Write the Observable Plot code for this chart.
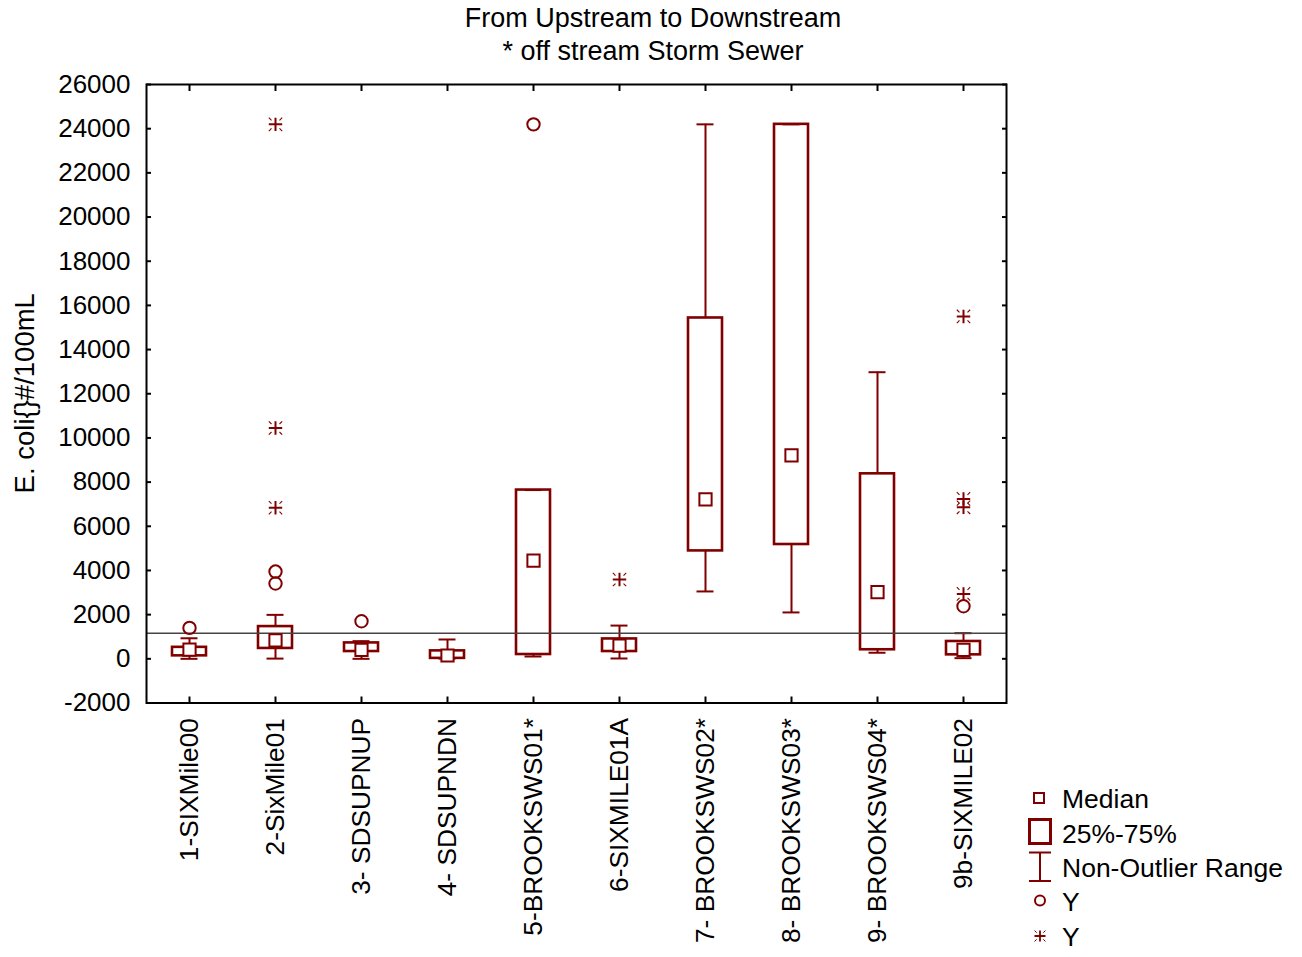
<!DOCTYPE html>
<html><head><meta charset="utf-8">
<script src="https://cdn.jsdelivr.net/npm/d3@7"></script>
<script src="https://cdn.jsdelivr.net/npm/@observablehq/plot@0.6"></script>
<style>
body{margin:0;background:#fff;font-family:"Liberation Sans",Arial,sans-serif;}
#title{width:1306px;height:70px;text-align:center;font-size:27px;line-height:33px;padding-top:2px;box-sizing:border-box;color:#000;}
#chart svg{display:block;}
</style></head><body>
<div id="title">From Upstream to Downstream<br>* off stream Storm Sewer</div>
<div id="chart"></div>
<script>
const categories = ["1-SIXMile00","2-SixMile01","3- SDSUPNUP","4- SDSUPNDN","5-BROOKSWS01*","6-SIXMILE01A","7- BROOKSWS02*","8- BROOKSWS03*","9- BROOKSWS04*","9b-SIXMILE02"];
const medians     = [420, 830, 400, 150, 4450, 600, 7220, 9210, 3015, 410];
const q1          = [135, 470, 330, 20, 195, 330, 4885, 5175, 410, 180];
const q3          = [520, 1460, 720, 360, 7640, 900, 15430, 24196, 8375, 785];
const whiskerLow  = [0, 10, 0, 10, 105, 15, 3050, 2100, 275, 30];
const whiskerHigh = [930, 1990, 800, 875, 7640, 1505, 24196, 24196, 12975, 1160];
const outlierSite  = ["1-SIXMile00","2-SixMile01","2-SixMile01","3- SDSUPNUP","5-BROOKSWS01*","9b-SIXMILE02"];
const outlierValue = [1400, 3950, 3410, 1700, 24196, 2380];
const extremeSite  = ["2-SixMile01","2-SixMile01","2-SixMile01","6-SIXMILE01A","9b-SIXMILE02","9b-SIXMILE02","9b-SIXMILE02","9b-SIXMILE02"];
const extremeValue = [24196, 10450, 6840, 3590, 15500, 7240, 6860, 2940];
const referenceLevel = 1160;
const yTicks = [-2000, 0, 2000, 4000, 6000, 8000, 10000, 12000, 14000, 16000, 18000, 20000, 22000, 24000, 26000];
const yLabel = "E. coli{}#/100mL";
const legendLabels = ["Median", "25%-75%", "Non-Outlier Range", "Y", "Y"];

const RED = "#800000";
const boxes = categories.map((c, i) => ({site: c, median: medians[i], q1: q1[i], q3: q3[i], lo: whiskerLow[i], hi: whiskerHigh[i]}));
const outliers = outlierSite.map((s, i) => ({site: s, value: outlierValue[i]}));
const extremes = extremeSite.map((s, i) => ({site: s, value: extremeValue[i]}));

const starPlus = {draw(ctx) { const r = 6.7; ctx.moveTo(-r, 0); ctx.lineTo(r, 0); ctx.moveTo(0, -r); ctx.lineTo(0, r); }};
const starDiag = {draw(ctx) { for (const sx of [-1, 1]) for (const sy of [-1, 1]) { ctx.moveTo(sx * 4, sy * 4); ctx.lineTo(sx * 6.7, sy * 6.7); } }};

function decorations(index, scales, values, dims) {
  const g = d3.create("svg:g");
  // y axis title
  g.append("text").attr("transform", `translate(24,${(dims.marginTop + dims.height - dims.marginBottom) / 2}) rotate(-90)`)
    .attr("text-anchor", "middle").attr("dy", "0.35em").attr("font-size", 27.5).attr("fill", "#000").text(yLabel);
  // legend
  const off = 70;
  const L = g.append("g").attr("fill", "none").attr("stroke", RED);
  L.append("rect").attr("x", 1034).attr("y", 793 - off).attr("width", 10).attr("height", 10).attr("stroke-width", 2);
  L.append("rect").attr("x", 1029.5).attr("y", 819.5 - off).attr("width", 21).attr("height", 24).attr("stroke-width", 3);
  L.append("path").attr("d", `M1029,${852.5 - off}H1051M1040,${852.5 - off}V${881 - off}M1029,${881 - off}H1051`).attr("stroke-width", 2);
  L.append("circle").attr("cx", 1040).attr("cy", 900.5 - off).attr("r", 5).attr("stroke-width", 2);
  const sy = 936 - off;
  L.append("path").attr("d", `M1034.5,${sy}H1045.5M1040,${sy - 5.5}V${sy + 5.5}`).attr("stroke-width", 1.8);
  L.append("path").attr("d", `M1034.5,${sy - 5.5}l2.2,2.2M1045.5,${sy - 5.5}l-2.2,2.2M1034.5,${sy + 5.5}l2.2,-2.2M1045.5,${sy + 5.5}l-2.2,-2.2`).attr("stroke-width", 1);
  const baselines = [808, 842.5, 876.5, 910.5, 945.5];
  legendLabels.forEach((t, i) => {
    g.append("text").attr("x", 1062).attr("y", baselines[i] - off).attr("text-anchor", "start")
      .attr("font-size", 26.5).attr("fill", "#000").text(t);
  });
  return g.node();
}

const chart = Plot.plot({
  width: 1302,
  height: 887,
  marginLeft: 146,
  marginRight: 296,
  marginTop: 14,
  marginBottom: 254.5,
  style: {fontFamily: "'Liberation Sans', Arial, sans-serif", fontSize: "26px", color: "#000", background: "#fff"},
  x: {type: "band", domain: categories, padding: 0},
  y: {domain: [-2000, 26000]},
  marks: [
    Plot.ruleX(boxes, {x: "site", y1: "lo", y2: "hi", stroke: RED, strokeWidth: 2}),
    Plot.rectY(boxes, {x: "site", y1: "q1", y2: "q3", fill: "#fff", stroke: RED, strokeWidth: 2.6, insetLeft: 26, insetRight: 26}),
    Plot.tickY(boxes, {x: "site", y: "lo", stroke: RED, strokeWidth: 2, insetLeft: 34.5, insetRight: 34.5}),
    Plot.tickY(boxes, {x: "site", y: "hi", stroke: RED, strokeWidth: 2, insetLeft: 34.5, insetRight: 34.5}),
    Plot.ruleY([referenceLevel], {stroke: "#444", strokeWidth: 1.6}),
    Plot.dot(boxes, {x: "site", y: "median", symbol: "square", r: 6.9, fill: "#fff", stroke: RED, strokeWidth: 2}),
    Plot.dot(outliers, {x: "site", y: "value", symbol: "circle", r: 6.2, fill: "none", stroke: RED, strokeWidth: 2}),
    Plot.dot(extremes, {x: "site", y: "value", symbol: starPlus, fill: "none", stroke: RED, strokeWidth: 2}),
    Plot.dot(extremes, {x: "site", y: "value", symbol: starDiag, fill: "none", stroke: RED, strokeWidth: 1.1}),
    Plot.frame({stroke: "#000", strokeWidth: 2}),
    Plot.axisY(yTicks, {anchor: "left", tickSize: 0, tickPadding: 16, tickFormat: d => String(d), fontSize: 26, label: null}),
    Plot.axisY(yTicks, {anchor: "left", tickSize: 5, dx: 5, tickFormat: () => "", label: null, strokeWidth: 2}),
    Plot.axisY(yTicks, {anchor: "right", tickSize: 5, dx: -5, tickFormat: () => "", label: null, strokeWidth: 2}),
    Plot.axisX({anchor: "bottom", tickSize: 0, tickPadding: 15, tickRotate: -90, fontSize: 26.3, label: null}),
    Plot.axisX({anchor: "bottom", tickSize: 6, dy: -6, tickFormat: () => "", label: null, strokeWidth: 2}),
    Plot.axisX({anchor: "top", tickSize: 6, dy: 6, tickFormat: () => "", label: null, strokeWidth: 2}),
    decorations
  ]
});
document.getElementById("chart").appendChild(chart);
</script>
</body></html>
